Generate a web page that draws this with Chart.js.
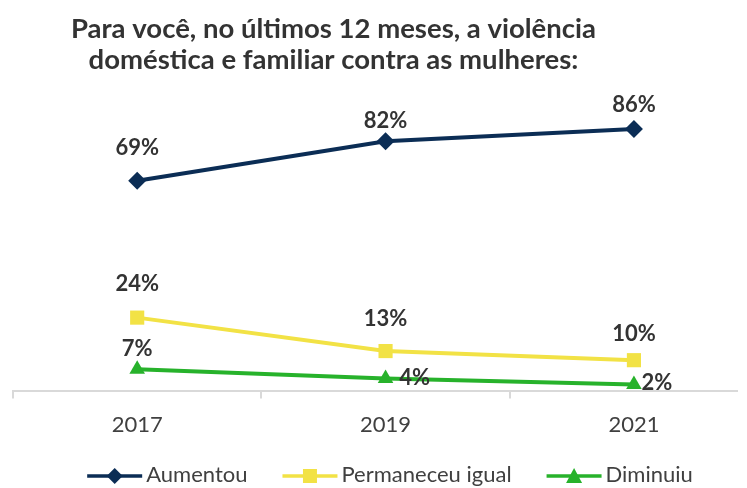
<!DOCTYPE html>
<html>
<head>
<meta charset="utf-8">
<script src="https://cdn.jsdelivr.net/npm/chart.js@4"></script>
<style>
  html, body { margin: 0; padding: 0; background: #fff; overflow: hidden; }
  #wrap { width: 747px; height: 488px; }
</style>
</head>
<body>
<div id="wrap"><canvas id="chart" width="747" height="488"></canvas></div>
<script>
const anos = ["2017", "2019", "2021"];
const aumentou = [69, 82, 86];
const permaneceu = [24, 13, 10];
const diminuiu = [7, 4, 2];
const seriesNomes = ["Aumentou", "Permaneceu igual", "Diminuiu"];
const titulo = ["Para você, no últimos 12 meses, a violência", "doméstica e familiar contra as mulheres:"];

const CORES = { azul: "#0B2D55", amarelo: "#F2E245", verde: "#27B22B" };
const FONTE = "Lato, 'Liberation Sans', sans-serif";

// onde cada rótulo fica em relação ao ponto (px)
const rotuloOffset = [
  [[0, -33], [0, -20], [0, -24]],
  [[0, -34], [0, -32], [0, -26]],
  [[0, -20], [29, -1], [23, -2]]
];

const estilos = ["rectRot", "rect", "triangle"];
const cores = [CORES.azul, CORES.amarelo, CORES.verde];
const valores = [aumentou, permaneceu, diminuiu];

function desenhaMarcador(g, estilo, x, y) {
  g.beginPath();
  if (estilo === "rectRot") {
    g.moveTo(x, y - 8); g.lineTo(x + 8, y); g.lineTo(x, y + 8); g.lineTo(x - 8, y);
  } else if (estilo === "rect") {
    g.rect(x - 7, y - 7, 14, 14);
  } else {
    g.moveTo(x, y - 8); g.lineTo(x + 8, y + 7); g.lineTo(x - 8, y + 7);
  }
  g.closePath(); g.fill();
}

const rotulosPlugin = {
  id: "rotulos",
  afterDatasetsDraw(chart) {
    const ctx = chart.ctx;
    ctx.save();
    ctx.font = "bold 22px " + FONTE;
    ctx.fillStyle = "#333333";
    ctx.textAlign = "center";
    ctx.textBaseline = "middle";
    chart.data.datasets.forEach((ds, di) => {
      chart.getDatasetMeta(di).data.forEach((pt, i) => {
        const [dx, dy] = rotuloOffset[di][i];
        ctx.fillText(ds.data[i].y + "%", pt.x + dx, pt.y + dy);
      });
    });
    ctx.restore();
  }
};

// legenda desenhada à mão: linha + marcador + texto
const legendaPlugin = {
  id: "legendaLinha",
  afterDraw(chart) {
    const ctx = chart.ctx;
    const linhaW = 55, gapTexto = 4, gapItem = 35, centroX = 390, y = 476;
    ctx.save();
    ctx.font = "22px " + FONTE;
    ctx.textBaseline = "middle";
    ctx.textAlign = "left";
    const larguras = seriesNomes.map(n => ctx.measureText(n).width);
    const total = larguras.reduce((a, b) => a + b, 0) + 3 * (linhaW + gapTexto) + 2 * gapItem;
    let x = centroX - total / 2;
    seriesNomes.forEach((nome, k) => {
      ctx.strokeStyle = cores[k];
      ctx.fillStyle = cores[k];
      ctx.lineWidth = 3.5;
      ctx.beginPath(); ctx.moveTo(x, y); ctx.lineTo(x + linhaW, y); ctx.stroke();
      desenhaMarcador(ctx, estilos[k], x + linhaW / 2, y);
      ctx.fillStyle = "#404040";
      ctx.fillText(nome, x + linhaW + gapTexto, y - 1);
      x += linhaW + gapTexto + larguras[k] + gapItem;
    });
    ctx.restore();
  }
};

const deslocaPlugin = {
  id: "desloca",
  afterLayout(chart) {
    chart.titleBlock.left -= 46;
    chart.titleBlock.right -= 46;
  }
};

new Chart(document.getElementById("chart"), {
  type: "line",
  data: {
    datasets: valores.map((vals, k) => ({
      label: seriesNomes[k],
      data: vals.map((v, i) => ({ x: i, y: v })),
      borderColor: cores[k],
      backgroundColor: cores[k],
      borderWidth: 4,
      pointStyle: estilos[k],
      pointRadius: k === 1 ? 10 : 9,
      pointHoverRadius: k === 1 ? 10 : 9,
      pointBorderWidth: 0,
      tension: 0,
      clip: false
    }))
  },
  options: {
    responsive: false,
    animation: false,
    layout: { padding: { left: 12, right: 0, top: 0, bottom: 37 } },
    scales: {
      x: {
        type: "linear",
        min: -0.5,
        max: 2.415,
        afterBuildTicks: (scale) => {
          scale.ticks = [-0.5, 0, 0.5, 1, 1.5, 2].map(v => ({ value: v }));
        },
        ticks: {
          autoSkip: false,
          maxRotation: 0,
          padding: 13,
          color: "#404040",
          font: { family: FONTE, size: 22 },
          callback: v => Number.isInteger(v) ? anos[v] : ""
        },
        grid: {
          drawOnChartArea: false,
          tickLength: 8,
          lineWidth: 2,
          color: c => Number.isInteger(c.tick.value) ? "rgba(0,0,0,0)" : "#D9D9D9"
        },
        border: { color: "#D9D9D9", width: 2 }
      },
      y: { display: false, min: 0, max: 100 }
    },
    plugins: {
      title: {
        display: true,
        text: titulo,
        color: "#333333",
        font: { family: FONTE, size: 27.5, weight: "bold", lineHeight: 1.127 },
        padding: { top: 13.5, bottom: 11 }
      },
      legend: { display: false },
      tooltip: { enabled: false }
    }
  },
  plugins: [rotulosPlugin, legendaPlugin, deslocaPlugin]
});
</script>
</body>
</html>
